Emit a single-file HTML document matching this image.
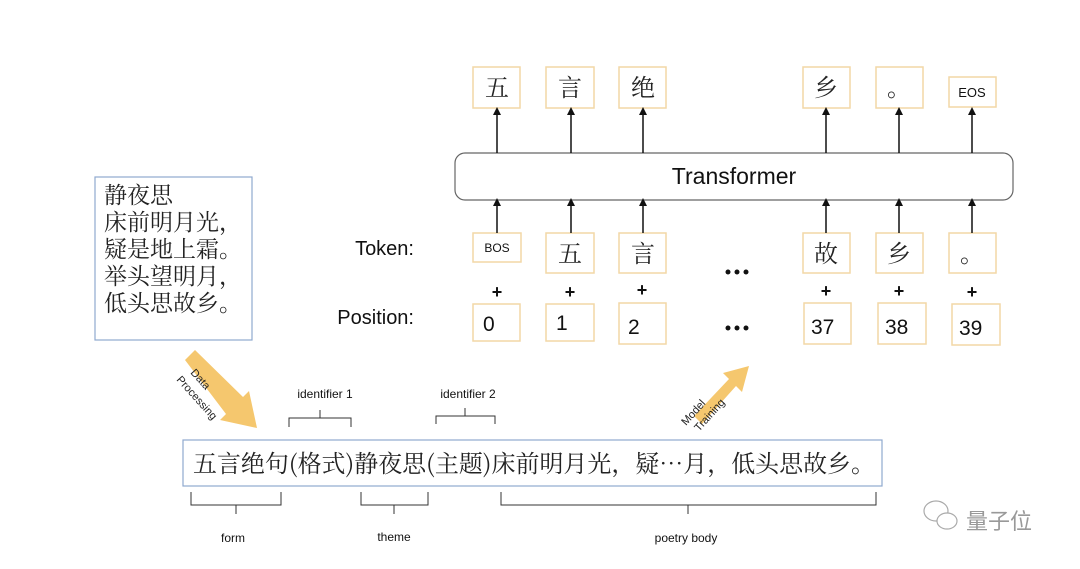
<!DOCTYPE html>
<html><head><meta charset="utf-8"><style>
html,body{margin:0;padding:0;background:#fff;width:1080px;height:569px;overflow:hidden}
svg text{font-family:"Liberation Sans","Noto Sans CJK SC",sans-serif}
.cj{font-family:"Noto Serif CJK SC","Liberation Serif",serif}
</style></head><body>
<svg width="1080" height="569" viewBox="0 0 1080 569" xmlns="http://www.w3.org/2000/svg">
<defs>
<marker id="ah" markerWidth="8" markerHeight="8" refX="4" refY="4" orient="auto" markerUnits="userSpaceOnUse"><path d="M0,0 L8,4 L0,8 z" fill="#111"/></marker>
</defs>
<g fill="#fff" stroke="#f2d7a6" stroke-width="1.5">
<rect x="473" y="67" width="47" height="41"/><rect x="546" y="67" width="48" height="41"/><rect x="619" y="67" width="47" height="41"/>
<rect x="803" y="67" width="47" height="41"/><rect x="876" y="67" width="47" height="41"/><rect x="949" y="77" width="47" height="30"/>
<rect x="473" y="233" width="48" height="29"/><rect x="546" y="233" width="48" height="40"/><rect x="619" y="233" width="47" height="40"/>
<rect x="803" y="233" width="47" height="40"/><rect x="876" y="233" width="47" height="40"/><rect x="949" y="233" width="47" height="40"/>
<rect x="473" y="304" width="47" height="37"/><rect x="546" y="304" width="48" height="37"/><rect x="619" y="303" width="47" height="41"/>
<rect x="804" y="303" width="47" height="41"/><rect x="878" y="303" width="48" height="41"/><rect x="952" y="304" width="48" height="41"/>
</g>
<g class="cj" font-size="24" fill="#222" text-anchor="middle">
<text x="497" y="96" class="cj">五</text><text x="570" y="96" class="cj">言</text><text x="643" y="96" class="cj">绝</text>
<text x="826" y="96" class="cj">乡</text><text x="899" y="96" class="cj">。</text>
<text x="570" y="262" class="cj">五</text><text x="643" y="262" class="cj">言</text><text x="826" y="262" class="cj">故</text><text x="899" y="262" class="cj">乡</text><text x="972" y="262" class="cj">。</text>
</g>
<text x="972" y="97" font-size="13" text-anchor="middle" fill="#111">EOS</text>
<text x="497" y="252" font-size="12" text-anchor="middle" fill="#111">BOS</text>
<rect x="455" y="153" width="558" height="47" rx="10" fill="#fff" stroke="#666" stroke-width="1.2"/>
<text x="734" y="176" font-size="23" text-anchor="middle" dy="0.35em" fill="#111">Transformer</text>
<g stroke="#111" stroke-width="1.5" marker-end="url(#ah)">
<line x1="497" y1="153" x2="497" y2="111"/><line x1="571" y1="153" x2="571" y2="111"/><line x1="643" y1="153" x2="643" y2="111"/>
<line x1="826" y1="153" x2="826" y2="111"/><line x1="899" y1="153" x2="899" y2="111"/><line x1="972" y1="153" x2="972" y2="111"/>
<line x1="497" y1="233" x2="497" y2="202"/><line x1="571" y1="233" x2="571" y2="202"/><line x1="643" y1="233" x2="643" y2="202"/>
<line x1="826" y1="233" x2="826" y2="202"/><line x1="899" y1="233" x2="899" y2="202"/><line x1="972" y1="233" x2="972" y2="202"/>
</g>
<g font-size="18" font-weight="bold" fill="#111" text-anchor="middle">
<text x="497" y="298">+</text><text x="570" y="298">+</text><text x="642" y="296">+</text><text x="826" y="297">+</text><text x="899" y="297">+</text><text x="972" y="298">+</text>
</g>
<g font-size="21" fill="#111">
<text x="483" y="331">0</text><text x="556" y="330">1</text><text x="628" y="334">2</text><text x="811" y="334">37</text><text x="885" y="334">38</text><text x="959" y="335">39</text>
</g>
<g fill="#111"><circle cx="728" cy="272" r="2.5"/><circle cx="737" cy="272" r="2.5"/><circle cx="746" cy="272" r="2.5"/>
<circle cx="728" cy="328" r="2.5"/><circle cx="737" cy="328" r="2.5"/><circle cx="746" cy="328" r="2.5"/></g>
<text x="414" y="255" font-size="20" text-anchor="end" fill="#111">Token:</text>
<text x="414" y="324" font-size="20" text-anchor="end" fill="#111">Position:</text>
<rect x="95" y="177" width="157" height="163" fill="#fff" stroke="#8fa9cf" stroke-width="1.2"/>
<g class="cj" font-size="23" fill="#222">
<text x="104" y="203" class="cj">静夜思</text><text x="104" y="230" class="cj">床前明月光，</text><text x="104" y="257" class="cj">疑是地上霜。</text><text x="104" y="284" class="cj">举头望明月，</text><text x="104" y="311" class="cj">低头思故乡。</text>
</g>
<g fill="#f5c76e">
<polygon points="185,360 195,350 243,397 249,391 257,428 220,420 226,414"/>
<polygon points="702,424 694,416 729,379 723,373 749,366 742,392 736,386"/>
</g>
<text transform="translate(190,373) rotate(48)" font-size="11" fill="#222">Data</text>
<text transform="translate(176,380) rotate(48)" font-size="11" fill="#222">Processing</text>
<text transform="translate(686,426) rotate(-48)" font-size="11" fill="#222">Model</text>
<text transform="translate(699,432) rotate(-48)" font-size="11" fill="#222">Training</text>
<text x="325" y="398" font-size="12" text-anchor="middle" fill="#111">identifier 1</text>
<text x="468" y="398" font-size="12" text-anchor="middle" fill="#111">identifier 2</text>
<g fill="none" stroke="#333" stroke-width="1">
<path d="M289,427 V418 H320 V410 M320,418 H351 V427"/>
<path d="M436,424 V416 H465 V408 M465,416 H495 V424"/>
<path d="M191,492 V505 H236 V514 M236,505 H281 V492"/>
<path d="M361,492 V505 H394 V514 M394,505 H428 V492"/>
<path d="M501,492 V505 H688 V514 M688,505 H876 V492"/>
</g>
<rect x="183" y="440" width="699" height="46" fill="#fff" stroke="#8fa9cf" stroke-width="1.2"/>
<text x="193" y="472" class="cj" font-size="24" fill="#222" textLength="682" lengthAdjust="spacingAndGlyphs">五言绝句(格式)静夜思(主题)床前明月光，疑…月，低头思故乡。</text>
<text x="233" y="542" font-size="12" text-anchor="middle" fill="#111">form</text>
<text x="394" y="541" font-size="12" text-anchor="middle" fill="#111">theme</text>
<text x="686" y="542" font-size="12" text-anchor="middle" fill="#111">poetry body</text>
<g fill="none" stroke="#aaa" stroke-width="1.2">
<ellipse cx="936" cy="511" rx="12" ry="10"/><ellipse cx="947" cy="521" rx="10" ry="8" fill="#fff"/>
</g>
<text x="966" y="529" font-size="22" fill="#999">量子位</text>
</svg>
</body></html>
